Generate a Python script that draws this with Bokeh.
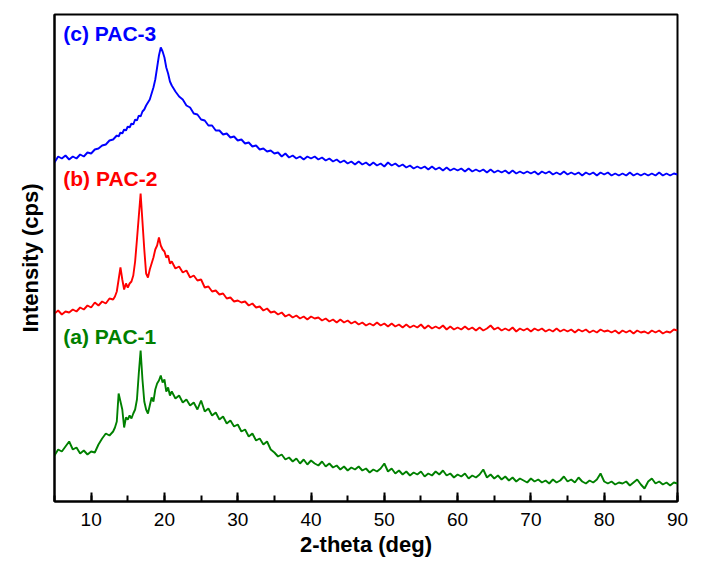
from bokeh.plotting import figure
from bokeh.models import Range1d, SingleIntervalTicker, FixedTicker
from bokeh.core.properties import value
from bokeh.embed import file_html
from bokeh.resources import INLINE

# 2-theta sampling (deg)
two_theta = [
    5.0, 5.5, 6.0, 6.5, 7.0, 7.5, 8.0, 8.5, 9.0, 9.5, 10.0, 10.5, 11.0, 11.5, 12.0, 12.5,
    13.0, 13.25, 13.5, 13.75, 14.0, 14.25, 14.5, 14.75, 15.0, 15.25, 15.5, 15.75, 16.0, 16.25,
    16.5, 16.75, 17.0, 17.25, 17.5, 17.75, 18.0, 18.25, 18.5, 18.75, 19.0, 19.25, 19.5, 19.75,
    20.0, 20.25, 20.5, 20.75, 21.0,
    21.5, 22.0, 22.5, 23.0, 23.5, 24.0, 24.5, 25.0,
    25.5, 26.0, 26.5, 27.0, 27.5, 28.0, 28.5, 29.0, 29.5, 30.0,
    30.5, 31.0, 31.5, 32.0, 32.5, 33.0, 33.5, 34.0, 34.5, 35.0,
    35.5, 36.0, 36.5, 37.0, 37.5, 38.0, 38.5, 39.0, 39.5, 40.0,
    40.5, 41.0, 41.5, 42.0, 42.5, 43.0, 43.5, 44.0, 44.5, 45.0,
    45.5, 46.0, 46.5, 47.0, 47.5, 48.0, 48.5, 49.0, 49.5, 50.0,
    50.5, 51.0, 51.5, 52.0, 52.5, 53.0, 53.5, 54.0, 54.5, 55.0,
    55.5, 56.0, 56.5, 57.0, 57.5, 58.0, 58.5, 59.0, 59.5, 60.0,
    60.5, 61.0, 61.5, 62.0, 62.5, 63.0, 63.5, 64.0, 64.5, 65.0,
    65.5, 66.0, 66.5, 67.0, 67.5, 68.0, 68.5, 69.0, 69.5, 70.0,
    70.5, 71.0, 71.5, 72.0, 72.5, 73.0, 73.5, 74.0, 74.5, 75.0,
    75.5, 76.0, 76.5, 77.0, 77.5, 78.0, 78.5, 79.0, 79.5, 80.0,
    80.5, 81.0, 81.5, 82.0, 82.5, 83.0, 83.5, 84.0, 84.5, 85.0,
    85.5, 86.0, 86.5, 87.0, 87.5, 88.0, 88.5, 89.0, 89.5, 90.0,
]

# (a) PAC-1 intensity (offset, arbitrary units)
pac1 = [
    46, 52, 50, 55, 60, 52, 54, 48, 51, 47, 50, 49, 57, 63, 68, 66,
    70, 74, 80, 108, 100, 92, 74, 84, 82, 86, 83, 88, 92, 102, 128, 151, 122,
    100, 92, 88, 96, 104, 100, 112, 118, 121, 126, 119, 122, 110, 114, 106, 110,
    103, 106, 99, 102, 96, 99, 92, 101,
    90, 93, 86, 89, 82, 85, 78, 81, 75, 77,
    70, 72, 65, 68, 61, 63, 57, 60, 52, 49,
    45, 47, 42, 44, 40, 43, 38, 42, 37, 41,
    38, 36, 40, 35, 38, 34, 36, 32, 35, 31,
    34, 32, 35, 31, 33, 29, 32, 30, 33, 38,
    30, 33, 28, 31, 27, 30, 26, 29, 27, 30,
    25, 28, 26, 30, 27, 31, 26, 28, 24, 27,
    25, 28, 23, 26, 24, 27, 32, 24, 27, 23,
    26, 22, 25, 21, 24, 20, 23, 21, 19, 23,
    20, 22, 19, 21, 18, 22, 19, 21, 25, 20,
    22, 19, 24, 20, 18, 21, 19, 22, 28, 20,
    18, 20, 17, 19, 18, 20, 16, 19, 22, 17,
    13, 20, 23, 18, 20, 17, 19, 16, 19, 18,
]

# (b) PAC-2
pac2 = [
    188, 191, 187, 190, 189, 192, 190, 194, 192, 196, 194, 199, 196, 200, 198, 203,
    202, 205, 210, 222, 234, 222, 212, 218, 214, 218, 220, 226, 240, 262, 285, 308, 280,
    252, 228, 224, 232, 238, 244, 252, 256, 264, 256, 252, 250, 244, 246, 238, 240,
    233, 235, 229, 231, 224, 226, 221, 222,
    214, 215, 210, 211, 207, 208, 203, 204, 200, 201,
    199, 200, 196, 198, 194, 195, 191, 193, 189, 190,
    187, 189, 185, 187, 184, 186, 183, 185, 182, 185,
    183, 184, 181, 183, 180, 182, 179, 182, 179, 181,
    178, 180, 177, 179, 176, 178, 176, 179, 176, 178,
    175, 178, 175, 177, 174, 177, 174, 176, 174, 177,
    173, 176, 173, 175, 173, 176, 172, 175, 172, 174,
    172, 175, 172, 174, 171, 174, 171, 173, 176, 172,
    174, 171, 173, 171, 174, 170, 173, 171, 173, 170,
    173, 171, 173, 170, 172, 170, 173, 170, 172, 170,
    172, 169, 172, 170, 172, 169, 171, 169, 172, 170,
    171, 169, 171, 168, 171, 169, 171, 168, 171, 169,
    170, 168, 171, 169, 171, 168, 170, 169, 172, 171,
]

# (c) PAC-3
pac3 = [
    339, 345, 343, 346, 342, 345, 343, 347, 345, 349, 348, 352, 353, 356, 357, 361,
    362, 364, 366, 365, 369, 368, 372, 371, 375, 374, 378, 377, 382, 381, 386, 385, 390,
    392, 396, 399, 402, 408, 414, 422, 434, 446, 454, 450, 444, 434, 428, 420, 416,
    410, 405, 402, 396, 394, 388, 387, 382,
    381, 376, 376, 371, 371, 367, 368, 364, 365, 361,
    362, 358, 359, 355, 356, 352, 353, 350, 351, 348,
    349, 345, 348, 344, 346, 343, 345, 342, 345, 343,
    345, 342, 344, 341, 343, 340, 342, 339, 341, 338,
    340, 337, 340, 337, 339, 336, 339, 336, 338, 335,
    339, 336, 338, 335, 337, 334, 336, 333, 335, 333,
    335, 332, 335, 332, 334, 331, 334, 331, 333, 331,
    333, 330, 333, 330, 332, 330, 332, 329, 332, 329,
    331, 329, 331, 328, 331, 328, 330, 328, 330, 328,
    330, 327, 330, 328, 330, 327, 329, 327, 330, 327,
    329, 327, 329, 326, 329, 327, 329, 326, 329, 327,
    329, 326, 328, 326, 328, 326, 329, 326, 328, 326,
    328, 326, 328, 326, 329, 326, 328, 326, 328, 327,
]

series_names = ["(a) PAC-1", "(b) PAC-2", "(c) PAC-3"]
series_colors = ["#008000", "#ff0000", "#0000ff"]
label_x = [6.2, 6.2, 6.2]
label_y = [165, 323, 468]

FONT = "Liberation Sans"

p = figure(width=700, height=566, output_backend="svg", toolbar_location=None,
           x_range=Range1d(5, 90), y_range=Range1d(0, 487),
           min_border_left=54, min_border_right=23, min_border_top=14, min_border_bottom=65)

for ys, c in zip([pac1, pac2, pac3], series_colors):
    p.line(two_theta, ys, line_color=c, line_width=1.9)

p.text(x=label_x, y=label_y, text=series_names, text_color=series_colors,
       text_font=value(FONT), text_font_size="21px", text_font_style="bold",
       text_baseline="middle", text_align="left")

p.xgrid.visible = False
p.ygrid.visible = False
p.outline_line_color = "black"
p.outline_line_width = 2
p.outline_line_alpha = 1

xa = p.xaxis[0]
xa.ticker = SingleIntervalTicker(interval=10, num_minor_ticks=2)
xa.major_tick_in = 9
xa.major_tick_out = 0
xa.minor_tick_in = 6
xa.minor_tick_out = 0
xa.major_tick_line_width = 2
xa.minor_tick_line_width = 2
xa.axis_line_width = 2
xa.major_label_text_font = FONT
xa.major_label_text_font_size = "19px"
xa.major_label_text_color = "black"
xa.major_label_standoff = 11
xa.axis_label = "2-theta (deg)"
xa.axis_label_text_font = FONT
xa.axis_label_text_font_size = "22px"
xa.axis_label_text_font_style = "bold"
xa.axis_label_text_color = "black"
xa.axis_label_standoff = 3

ya = p.yaxis[0]
ya.ticker = FixedTicker(ticks=[])
ya.major_tick_line_color = None
ya.minor_tick_line_color = None
ya.major_label_standoff = 0
ya.axis_line_width = 2
ya.axis_label = "Intensity (cps)"
ya.axis_label_text_font = FONT
ya.axis_label_text_font_size = "22px"
ya.axis_label_text_font_style = "bold"
ya.axis_label_text_color = "black"
ya.axis_label_standoff = 12

open("out.html", "w").write(file_html(p, INLINE))
